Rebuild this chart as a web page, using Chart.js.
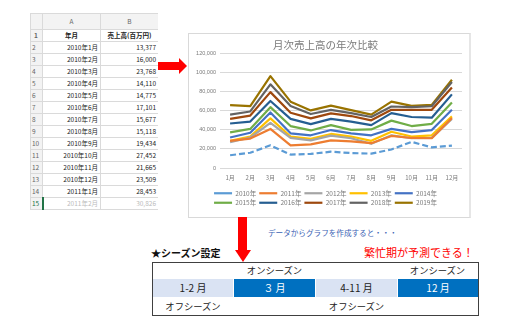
<!DOCTYPE html>
<html lang="ja">
<head>
<meta charset="utf-8">
<script src="https://cdn.jsdelivr.net/npm/chart.js@4.4.0/dist/chart.umd.min.js"></script>
<style>
  body { margin: 0; width: 510px; height: 329px; background: #fff; position: relative; overflow: hidden;
         font-family: "Noto Sans CJK JP", "Noto Sans", sans-serif; }
  .abs { position: absolute; }
  #sheet { left: 30px; top: 13px; width: 128px; height: 197px; overflow: hidden; }
  #sheet table { border-collapse: collapse; table-layout: fixed; width: 128px; font-size: 6.5px; color: #222; }
  #sheet td { border: 1px solid #dadada; padding: 0 2px; height: 11px; line-height: 11px; white-space: nowrap; overflow: hidden; }
  #sheet td.rh { background: #f3f3f3; color: #666; text-align: left; padding-left: 1px; }
  #sheet tr.ch td { background: #f3f3f3; color: #666; text-align: center; height: 15px; }
  #sheet td.r { text-align: right; }
  #sheet tr.hd td { font-weight: bold; text-align: center; }
  #sheet tr.fade td { color: #bbb; }
  #sheet tr.fade td.rh { border-right: 2px solid #217346; color: #217346; }
  #panel { left: 188px; top: 33px; width: 280px; height: 183px; border: 1px solid #d9d9d9; border-right: 2px solid #e6e6e6; }
  #wrap { left: 189px; top: 34px; width: 280px; height: 183px; }
  .txt { white-space: nowrap; line-height: 1; }
</style>
</head>
<body>
<div id="sheet" class="abs"></div>

<!-- arrow to chart -->
<div class="abs" style="left:158px;top:62px;width:22px;height:8px;background:#ff0000"></div>
<div class="abs" style="left:179px;top:58px;width:0;height:0;border-left:8px solid #ff0000;border-top:8px solid transparent;border-bottom:8px solid transparent"></div>

<div id="panel" class="abs"></div>
<div id="wrap" class="abs"><canvas id="c"></canvas></div>

<!-- arrow down -->
<div class="abs" style="left:238px;top:217px;width:9px;height:34px;background:#ff0000"></div>
<div class="abs" style="left:235px;top:250px;width:0;height:0;border-top:12px solid #ff0000;border-left:8.5px solid transparent;border-right:8.5px solid transparent"></div>

<div class="abs txt" style="left:268px;top:229px;font-size:7.6px;color:#3a62b4">データからグラフを作成すると・・・</div>
<div class="abs txt" style="left:151px;top:248px;font-size:10px;font-weight:bold;color:#111">★シーズン設定</div>
<div class="abs txt" style="left:364px;top:247px;font-size:11px;color:#ff0000">繁忙期が予測できる！</div>

<!-- season box -->
<div class="abs" style="left:152px;top:262px;width:325px;height:52px;border:1px solid #404040"></div>
<div class="abs txt" style="left:234px;top:266px;width:81px;text-align:center;font-size:9.3px;color:#222">オンシーズン</div>
<div class="abs txt" style="left:397px;top:266px;width:81px;text-align:center;font-size:9.3px;color:#222">オンシーズン</div>
<div class="abs txt" style="left:153px;top:279px;width:80px;height:18px;line-height:18px;text-align:center;font-size:10px;background:#dae3f3;color:#222">1-2 月</div>
<div class="abs txt" style="left:234px;top:279px;width:81px;height:18px;line-height:18px;text-align:center;font-size:10px;background:#0070c0;color:#fff">３ 月</div>
<div class="abs txt" style="left:316px;top:279px;width:81px;height:18px;line-height:18px;text-align:center;font-size:10px;background:#dae3f3;color:#222">4-11 月</div>
<div class="abs txt" style="left:398px;top:279px;width:80px;height:18px;line-height:18px;text-align:center;font-size:10px;background:#0070c0;color:#fff">12 月</div>
<div class="abs txt" style="left:153px;top:302px;width:80px;text-align:center;font-size:9.3px;color:#222">オフシーズン</div>
<div class="abs txt" style="left:316px;top:302px;width:81px;text-align:center;font-size:9.3px;color:#222">オフシーズン</div>

<script>
// spreadsheet
const sheetMonths = ['2010年1月', '2010年2月', '2010年3月', '2010年4月', '2010年5月', '2010年6月', '2010年7月',
  '2010年8月', '2010年9月', '2010年10月', '2010年11月', '2010年12月', '2011年1月', '2011年2月'];
const sheetValues = ['13,377', '16,000', '23,768', '14,110', '14,775', '17,101', '15,677',
  '15,118', '19,434', '27,452', '21,665', '23,509', '28,453', '30,826'];

// chart
const months = ['1月', '2月', '3月', '4月', '5月', '6月', '7月', '8月', '9月', '10月', '11月', '12月'];
const years = ['2010年', '2011年', '2012年', '2013年', '2014年', '2015年', '2016年', '2017年', '2018年', '2019年'];
const sales2010 = [13377, 16000, 23768, 14110, 14775, 17101, 15677, 15118, 19434, 27452, 21665, 23509];
const sales2011 = [28453, 30826, 41000, 23700, 24700, 29000, 28000, 26000, 33600, 31500, 31200, 52500];
const sales2012 = [27000, 32000, 47300, 31600, 29000, 34000, 31200, 25400, 34300, 31200, 31600, 51500];
const sales2013 = [28500, 33000, 52000, 33000, 30500, 35700, 33000, 28500, 38000, 33000, 34300, 54200];
const sales2014 = [32000, 37000, 58300, 36400, 34300, 39800, 36400, 34300, 41000, 37700, 39800, 61000];
const sales2015 = [37400, 41000, 63800, 44000, 39400, 45000, 40000, 40500, 49700, 44000, 46300, 68600];
const sales2016 = [46700, 48700, 70300, 51500, 46000, 51500, 48700, 45000, 57600, 53500, 52800, 77200];
const sales2017 = [51500, 55000, 79600, 58000, 52000, 57300, 54500, 50000, 61000, 61000, 61000, 84400];
const sales2018 = [56000, 59300, 87800, 65000, 56600, 61000, 57600, 53500, 64500, 63800, 64800, 90200];
const sales2019 = [66000, 65000, 96400, 69600, 60400, 65500, 60700, 56000, 69600, 65200, 66200, 92600];
const yTicks = [0, 20000, 40000, 60000, 80000, 100000, 120000];

const allSales = [sales2010, sales2011, sales2012, sales2013, sales2014, sales2015, sales2016, sales2017, sales2018, sales2019];
const colors = ['#5b9bd5', '#ed7d31', '#a5a5a5', '#ffc000', '#4472c4', '#70ad47', '#255e91', '#9e480e', '#636363', '#997300'];

// build the sheet
let html = '<table><colgroup><col style="width:12px"><col style="width:58px"><col style="width:58px"></colgroup>';
html += '<tr class="ch"><td class="rh"></td><td>A</td><td>B</td></tr>';
html += '<tr class="hd"><td class="rh">1</td><td>年月</td><td>売上高(百万円)</td></tr>';
sheetMonths.forEach((m, i) => {
  const cls = i === sheetMonths.length - 1 ? ' class="fade"' : '';
  html += `<tr${cls}><td class="rh">${i + 2}</td><td class="r">${m}</td><td class="r">${sheetValues[i]}</td></tr>`;
});
html += '</table>';
document.getElementById('sheet').innerHTML = html;

const datasets = years.map((y, i) => ({
  label: y,
  data: allSales[i],
  borderColor: colors[i],
  backgroundColor: colors[i],
  borderWidth: 2.2,
  borderDash: i === 0 ? [6, 3] : [],
  pointRadius: 0,
  tension: 0,
  borderJoinStyle: 'round'
}));

new Chart(document.getElementById('c'), {
  type: 'line',
  data: { labels: months, datasets },
  options: {
    responsive: true,
    maintainAspectRatio: false,
    animation: false,
    layout: { padding: { right: 7, bottom: 1 } },
    plugins: {
      title: {
        display: true,
        text: '月次売上高の年次比較',
        color: '#7a7a7a',
        font: { size: 10.5, weight: 'normal', family: '"Noto Sans CJK JP"' },
        padding: { top: 5, bottom: 2 }
      },
      legend: {
        position: 'bottom',
        labels: {
          usePointStyle: true,
          pointStyle: 'line',
          pointStyleWidth: 18,
          boxHeight: 6,
          padding: 3,
          color: '#7a7a7a',
          font: { size: 6.5, family: '"Noto Sans CJK JP"' }
        }
      },
      tooltip: { enabled: false }
    },
    scales: {
      x: {
        offset: true,
        grid: { display: false, drawTicks: false },
        border: { display: false },
        ticks: { color: '#7a7a7a', padding: 6, font: { size: 6, family: '"Noto Sans CJK JP"' }, maxRotation: 0 },
        afterFit: s => { s.height = 19; }
      },
      y: {
        min: 0,
        max: 120000,
        afterBuildTicks: s => { s.ticks = yTicks.map(v => ({ value: v })); },
        grid: { color: '#d9d9d9', drawTicks: false },
        border: { display: false },
        ticks: {
          color: '#7a7a7a',
          padding: 4,
          font: { size: 5.5, family: 'Liberation Sans' },
          callback: v => v.toLocaleString('en-US')
        },
        afterFit: s => { s.width = 31; }
      }
    }
  }
});
</script>
</body>
</html>
